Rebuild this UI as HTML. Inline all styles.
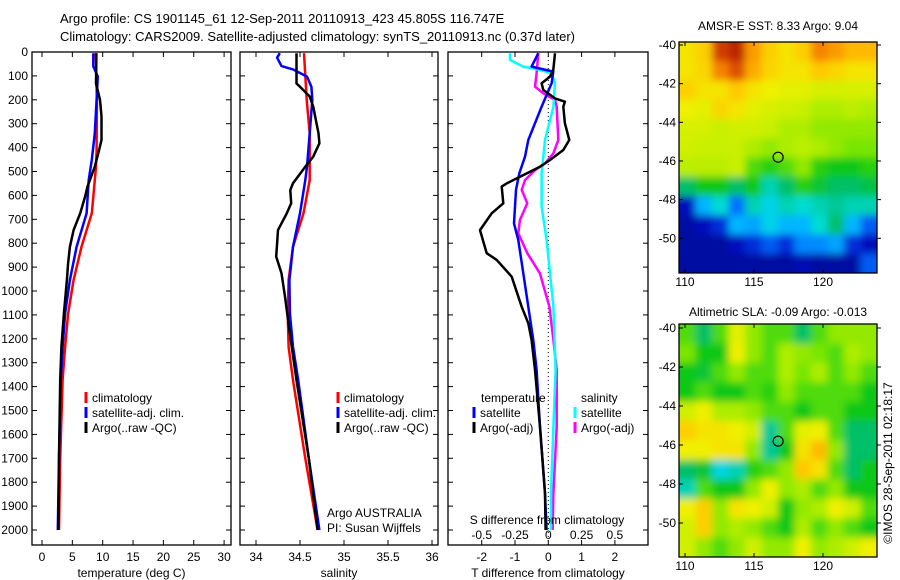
<!DOCTYPE html>
<html><head><meta charset="utf-8"><style>
body{margin:0;background:#fff}
svg{display:block;font-family:"Liberation Sans",sans-serif}
</style></head><body>
<svg id="fig" width="900" height="580">
<defs>
<filter id="blur" x="-5%" y="-5%" width="110%" height="110%"><feGaussianBlur stdDeviation="4"/></filter>
<clipPath id="clip1"><rect x="679" y="42" width="198" height="231"/></clipPath>
<clipPath id="clip2"><rect x="679" y="324" width="198" height="233"/></clipPath>
</defs>
<g font-size="13">
<text x="60" y="23">Argo profile: CS 1901145_61 12-Sep-2011 20110913_423 45.805S 116.747E</text>
<text x="60" y="41">Climatology: CARS2009. Satellite-adjusted climatology: synTS_20110913.nc (0.37d later)</text>
</g>
</svg>
<script>
// ---------- Data ----------
const depthTicks=[0,100,200,300,400,500,600,700,800,900,1000,1100,1200,1300,1400,1500,1600,1700,1800,1900,2000];
const tempTicks=[0,5,10,15,20,25,30];
const salTicks=[34,34.5,35,35.5,36];
const tdTicks=[-2,-1,0,1,2];
const sdTicks=[-0.5,-0.25,0,0.25,0.5];
const tClimD=[5,200,410,480,536,675,815,954,1094,1234,1373,1700,2000];
const tClimV=[8.85,9.05,9.0,8.9,8.7,8.2,6.5,5.2,4.3,3.8,3.4,3.0,2.8];
const tSatD=[5,60,103,200,340,451,536,675,815,954,1094,1234,1373,1700,2000];
const tSatV=[8.45,8.45,9.2,9.0,8.7,8.2,7.7,7.35,5.7,4.6,3.8,3.4,3.1,2.8,2.6];
const tArgoD=[5,132,200,270,368,410,480,563,605,675,745,815,884,954,1094,1234,1373,1700,2000];
const tArgoV=[8.96,8.9,9.55,9.8,9.8,9.4,8.7,7.5,7.1,6.3,5.2,4.6,4.3,4.1,3.6,3.2,3.0,2.8,2.7];
const sClimD=[5,200,340,480,536,675,815,954,1094,1234,1373,1700,2000];
const sClimV=[34.545,34.576,34.61,34.61,34.61,34.54,34.42,34.37,34.36,34.37,34.42,34.56,34.70];
const sSatD=[5,24,59,73,103,145,200,340,480,536,675,815,954,1094,1234,1373,1700,2000];
const sSatV=[34.27,34.24,34.29,34.42,34.58,34.63,34.64,34.61,34.58,34.56,34.5,34.42,34.38,34.385,34.42,34.48,34.6,34.72];
const sArgoD=[5,132,145,186,228,340,382,438,480,549,578,633,675,745,856,926,1024,1164,1373,1700,2000];
const sArgoV=[34.46,34.46,34.5,34.61,34.65,34.71,34.72,34.65,34.56,34.42,34.39,34.40,34.35,34.25,34.23,34.29,34.33,34.38,34.46,34.6,34.70];
const dTArgoD=[5,75,103,131,159,194,208,229,298,368,410,452,480,522,550,563,633,675,745,842,870,940,1066,1135,1205,1330,1569,1846,2000];
const dTArgoV=[0.2,0.15,0.05,-0.2,-0.15,0.2,0.5,0.45,0.5,0.63,0.45,0.05,-0.25,-0.85,-1.25,-1.4,-1.35,-1.7,-2.05,-1.85,-1.55,-1.1,-0.8,-0.6,-0.5,-0.4,-0.25,-0.1,-0.08];
const dTSatD=[5,61,82,131,229,298,368,438,508,577,717,787,926,1066,1205,1330,1569,1846,2000];
const dTSatV=[-0.3,-0.5,0.15,0.1,-0.2,-0.4,-0.6,-0.7,-0.87,-0.97,-1.03,-0.9,-0.75,-0.6,-0.45,-0.35,-0.25,-0.1,-0.05];
const dSArgoD=[5,89,145,173,201,229,368,424,466,494,536,577,633,703,759,842,926,1066,1205,1330,1569,1846,2000];
const dSArgoV=[-0.075,-0.088,-0.1,-0.038,0.05,0.063,0.075,0.038,-0.025,-0.1,-0.175,-0.2,-0.158,-0.213,-0.225,-0.158,-0.063,0.008,0.038,0.063,0.063,0.038,0.033];
const dSSatD=[5,33,61,75,89,131,229,368,508,647,787,926,1066,1330,1569,1846,2000];
const dSSatV=[-0.288,-0.288,-0.188,-0.063,0.025,0.05,0.038,-0.025,-0.05,-0.05,-0.013,0.013,0.038,0.055,0.038,0.02,0.02];
const lonTicks=[110,115,120];
const latTicks=[-40,-42,-44,-46,-48,-50];
const sstGrid=[
[.72,.75,.92,.95,.82,.75,.72,.75,.85,.82,.78,.78],
[.72,.74,.85,.9,.8,.74,.72,.72,.76,.74,.72,.72],
[.75,.72,.72,.76,.72,.7,.68,.68,.66,.66,.66,.66],
[.7,.68,.74,.72,.68,.66,.65,.64,.62,.62,.63,.62],
[.66,.66,.64,.65,.65,.64,.62,.62,.6,.6,.6,.6],
[.65,.64,.64,.64,.62,.6,.62,.63,.62,.6,.58,.58],
[.63,.63,.63,.64,.55,.52,.55,.6,.52,.5,.5,.52],
[.45,.5,.5,.45,.5,.4,.45,.52,.48,.45,.45,.47],
[.1,.3,.38,.22,.4,.35,.4,.38,.4,.42,.4,.4],
[.05,.1,.15,.3,.28,.35,.3,.3,.38,.45,.3,.2],
[.05,.05,.05,.1,.15,.2,.15,.25,.25,.28,.15,.1],
[.05,.05,.05,.05,.05,.05,.05,.08,.05,.05,.05,.2]];
const slaGrid=[
[.55,.45,.55,.68,.6,.55,.55,.45,.55,.6,.6,.6],
[.58,.5,.5,.7,.6,.55,.62,.6,.58,.55,.62,.6],
[.5,.48,.55,.6,.55,.55,.62,.58,.62,.55,.6,.55],
[.5,.55,.5,.5,.55,.52,.6,.55,.55,.55,.55,.5],
[.65,.7,.62,.62,.6,.55,.55,.5,.55,.55,.5,.5],
[.75,.72,.72,.7,.65,.42,.55,.68,.7,.55,.45,.45],
[.7,.7,.72,.72,.6,.42,.5,.72,.78,.6,.45,.45],
[.45,.48,.36,.4,.52,.55,.6,.76,.72,.55,.45,.5],
[.4,.55,.5,.5,.6,.7,.6,.62,.55,.6,.5,.5],
[.7,.75,.6,.72,.7,.65,.5,.6,.62,.7,.65,.55],
[.65,.75,.6,.62,.6,.55,.5,.62,.55,.6,.55,.5],
[.65,.6,.55,.6,.65,.6,.6,.7,.6,.62,.65,.7]];
const argoLon=116.747, argoLat=-45.805;

// ---------- Drawing ----------
const NS='http://www.w3.org/2000/svg';
const svg=document.getElementById('fig');
function mk(tag,attrs,parent){const e=document.createElementNS(NS,tag);for(const k in attrs)e.setAttribute(k,attrs[k]);(parent||svg).appendChild(e);return e;}
const PT=52,PB=545;
function yDepth(d){return 52+d*0.239;}

function panel(name,x0,x1,xs,ticks,ticklbl,xlabel){
  const g=mk('g',{});
  
  
  const r=mk('rect',{x:x0,y:PT,width:x1-x0,height:PB-PT,fill:'none',stroke:'#000','stroke-width':1.3},g);
  
  
  depthTicks.forEach(d=>{const y=yDepth(d);
    mk('line',{x1:x0,x2:x0+5,y1:y,y2:y,stroke:'#000'},g);
    mk('line',{x1:x1-5,x2:x1,y1:y,y2:y,stroke:'#000'},g);});
  ticks.forEach(v=>{const x=xs(v);
    mk('line',{x1:x,x2:x,y1:PT,y2:PT+5,stroke:'#000'},g);
    mk('line',{x1:x,x2:x,y1:PB-5,y2:PB,stroke:'#000'},g);
    const t=mk('text',{x:x,y:561,'font-size':12,'text-anchor':'middle'},g);t.textContent=ticklbl(v);
    
    });
  const t=mk('text',{x:(x0+x1)/2,y:577,'font-size':12,'text-anchor':'middle'},g);t.textContent=xlabel;
  
  
  return g;
}
function line(g,name,D,V,xs,color,w){
  const p=D.map((d,i)=>xs(V[i]).toFixed(1)+','+yDepth(d).toFixed(1)).join(' ');
  const e=mk('polyline',{points:p,fill:'none',stroke:color,'stroke-width':w||2.5,'stroke-linejoin':'round'},g);
  
  
}
function legend(g,x,y,color,label){
  mk('line',{x1:x,x2:x,y1:y-10,y2:y+1,stroke:color,'stroke-width':3},g);
  const t=mk('text',{x:x+6,y:y,'font-size':12},g);t.textContent=label;
  
  
}

const xT=v=>42+v*6.07;
const g1=panel('temperature-panel',32,231,xT,tempTicks,v=>String(v),'temperature (deg C)');
depthTicks.forEach(d=>{const t=mk('text',{x:28,y:yDepth(d)+4,'font-size':12,'text-anchor':'end'},g1);t.textContent=d;
  
  });
line(g1,'temp-climatology-line',tClimD,tClimV,xT,'#f00');
line(g1,'temp-satellite-line',tSatD,tSatV,xT,'#00f');
line(g1,'temp-argo-line',tArgoD,tArgoV,xT,'#000');
legend(g1,86,402,'#f00','climatology');
legend(g1,86,417,'#00f','satellite-adj. clim.');
legend(g1,86,432,'#000','Argo(..raw -QC)');

const xS=v=>256+(v-34)*88;
const g2=panel('salinity-panel',240,438,xS,salTicks,v=>String(v),'salinity');
line(g2,'sal-climatology-line',sClimD,sClimV,xS,'#f00');
line(g2,'sal-satellite-line',sSatD,sSatV,xS,'#00f');
line(g2,'sal-argo-line',sArgoD,sArgoV,xS,'#000');
legend(g2,338,402,'#f00','climatology');
legend(g2,338,417,'#00f','satellite-adj. clim.');
legend(g2,338,432,'#000','Argo(..raw -QC)');
[['Argo AUSTRALIA',517],['PI: Susan Wijffels',532]].forEach(a=>{const t=mk('text',{x:327,y:a[1],'font-size':12},g2);t.textContent=a[0];
  
  });

const xTd=v=>548.3+v*33.3;
const xSd=v=>548.3+v*133.2;
const g3=panel('difference-panel',448,648,xTd,tdTicks,v=>String(v),'T difference from climatology');
mk('line',{x1:548.3,x2:548.3,y1:PT,y2:PB,stroke:'#000','stroke-dasharray':'1,3'},g3);
line(g3,'s-argo-diff-line',dSArgoD,dSArgoV,xSd,'#f0f');
line(g3,'s-sat-diff-line',dSSatD,dSSatV,xSd,'#0ff');
line(g3,'t-sat-diff-line',dTSatD,dTSatV,xTd,'#00f');
line(g3,'t-argo-diff-line',dTArgoD,dTArgoV,xTd,'#000');
sdTicks.forEach(v=>{const t=mk('text',{x:xSd(v),y:539,'font-size':12,'text-anchor':'middle'},g3);t.textContent=String(v);
  
  });
{const t=mk('text',{x:547,y:524,'font-size':12,'text-anchor':'middle'},g3);t.textContent='S difference from climatology';
  
  }
{const t=mk('text',{x:481,y:402,'font-size':12},g3);t.textContent='temperature';
  
  }
{const t=mk('text',{x:581,y:402,'font-size':12},g3);t.textContent='salinity';
  
  }
legend(g3,474,417,'#00f','satellite');
legend(g3,474,432,'#000','Argo(-adj)');
legend(g3,575,417,'#0ff','satellite');
legend(g3,575,432,'#f0f','Argo(-adj)');

// custom colormap
const cmapStops=[[0,[0,0,135]],[0.12,[0,20,200]],[0.22,[0,110,255]],[0.32,[0,200,255]],[0.38,[0,220,210]],[0.44,[0,190,120]],[0.5,[10,200,20]],[0.58,[120,230,0]],[0.64,[200,240,0]],[0.7,[240,240,0]],[0.76,[255,200,0]],[0.84,[250,140,0]],[0.92,[210,60,0]],[1,[150,0,0]]];
function cmap(v){
  for(let i=1;i<cmapStops.length;i++){const a=cmapStops[i-1],b=cmapStops[i];
    if(v<=b[0]){const f=(v-a[0])/(b[0]-a[0]);const c=a[1].map((x,k)=>Math.round(x+(b[1][k]-x)*f));return 'rgb('+c.join(',')+')';}}
  return 'rgb(150,0,0)';
}
function map(name,grid,x0,x1,y0,y1,lat0,latPx,lon0,lonPx,title,ty,clip){
  const g=mk('g',{});
  
  
  const cg=mk('g',{'clip-path':'url(#'+clip+')'},g);
  const bg=mk('g',{filter:'url(#blur)'},cg);
  const rows=grid.length,cols=grid[0].length,cw=(x1-x0)/cols,ch=(y1-y0)/rows;
  grid.forEach((row,i)=>row.forEach((v,j)=>{
    const ex=j===0?-8:0, ey=i===0?-8:0, ew=(j===cols-1?8:0)-ex, eh=(i===rows-1?8:0)-ey;
    const r=mk('rect',{x:(x0+j*cw+ex).toFixed(2),y:(y0+i*ch+ey).toFixed(2),width:(cw+0.6+ew).toFixed(2),height:(ch+0.6+eh).toFixed(2),fill:cmap(v)},bg);
    
    
  }));
  const fr=mk('rect',{x:x0,y:y0,width:x1-x0,height:y1-y0,fill:'none',stroke:'#000','stroke-width':1.3},g);
  
  
  const xL=l=>lon0+(l-110)*lonPx, yL=l=>lat0+(-40-l)*latPx;
  lonTicks.forEach(l=>{const x=xL(l);
    mk('line',{x1:x,x2:x,y1:y1,y2:y1-4,stroke:'#000'},g);mk('line',{x1:x,x2:x,y1:y0,y2:y0+4,stroke:'#000'},g);
    const t=mk('text',{x:x,y:y1+13,'font-size':12,'text-anchor':'middle'},g);t.textContent=l;
    
    });
  latTicks.forEach(l=>{const y=yL(l);
    mk('line',{x1:x0,x2:x0+4,y1:y,y2:y,stroke:'#000'},g);mk('line',{x1:x1,x2:x1+4,y1:y,y2:y,stroke:'#000'},g);
    const t=mk('text',{x:x0-3,y:y+4,'font-size':12,'text-anchor':'end'},g);t.textContent=l;
    
    });
  const c=mk('circle',{cx:xL(argoLon),cy:yL(argoLat),r:5,fill:'none',stroke:'#000','stroke-width':1.2},g);
  
  
  const t=mk('text',{x:(x0+x1)/2,y:ty,'font-size':12,'text-anchor':'middle'},g);t.textContent=title;
  
  
}
map('sst-map',sstGrid,679,877,42,273,45,19.33,685,13.8,'AMSR-E SST: 8.33 Argo: 9.04',30,'clip1');
map('sla-map',slaGrid,679,877,324,557,328,19.5,685,13.8,'Altimetric SLA: -0.09 Argo: -0.013',316,'clip2');
{const t=mk('text',{x:0,y:0,'font-size':12,'text-anchor':'middle',transform:'translate(892,463) rotate(-90)'});t.textContent='©IMOS 28-Sep-2011 02:18:17';
  
  }
</script>
</body></html>
